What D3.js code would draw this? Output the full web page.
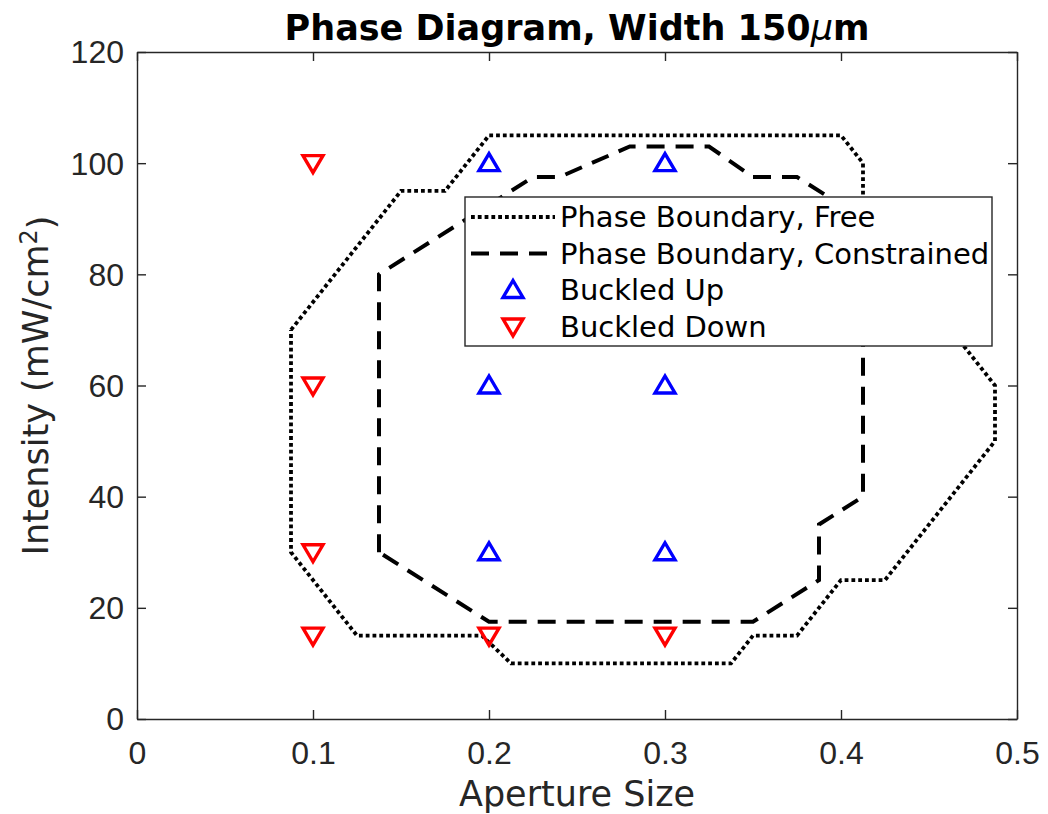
<!DOCTYPE html>
<html>
<head>
  <meta charset="UTF-8" />
  <title>Phase Diagram</title>
  <style>
    body { margin: 0; background: #fff; }
    svg { font-family: "DejaVu Sans", sans-serif; }
  </style>
  <script src="https://d3js.org/d3.v7.min.js"></script>
</head>
<body>
  <div id="chart"></div>
  <script>
    // boundary polygons: [aperture, intensity]
    const freeBoundary = [
      [0.0875, 70], [0.15, 95], [0.175, 95], [0.2, 105], [0.4, 105], [0.4125, 100],
      [0.4125, 90], [0.4875, 60], [0.4875, 50], [0.425, 25], [0.4, 25], [0.375, 15],
      [0.35, 15], [0.3375, 10], [0.2125, 10], [0.196, 15], [0.125, 15], [0.0875, 30], [0.0875, 70]
    ];
    const constrainedBoundary = [
      [0.1375, 30], [0.1375, 80], [0.225, 97.5], [0.24, 97.5], [0.28, 103], [0.325, 103],
      [0.35, 97.5], [0.375, 97.5], [0.4125, 90], [0.4125, 40], [0.3875, 35], [0.3875, 25],
      [0.35, 17.5], [0.2, 17.5], [0.1375, 30]
    ];
    const buckledUp = [[0.2, 100], [0.3, 100], [0.2, 60], [0.3, 60], [0.2, 30], [0.3, 30]];
    const buckledDown = [[0.1, 100], [0.1, 60], [0.1, 30], [0.1, 15], [0.2, 15], [0.3, 15]];
    const xTicks = [0, 0.1, 0.2, 0.3, 0.4, 0.5];
    const yTicks = [0, 20, 40, 60, 80, 100, 120];
    const legendLabels = ["Phase Boundary, Free", "Phase Boundary, Constrained", "Buckled Up", "Buckled Down"];

    let margin = { top: 52, right: 31, bottom: 95, left: 137 },
      width = 1048 - margin.left - margin.right,
      height = 814 - margin.top - margin.bottom;

    const axisColor = "#262626";

    let svg = d3.select("#chart")
      .append("svg")
      .attr("width", 1048)
      .attr("height", 814);

    let g = svg.append("g")
      .attr("transform", "translate(" + margin.left + "," + margin.top + ")");

    let xScale = d3.scaleLinear().domain([0, 0.5]).range([0, width]);
    let yScale = d3.scaleLinear().domain([0, 120]).range([height, 0]);

    /* axes, ticks pointing inward on all four sides */
    let xAxis = g.append("g")
      .attr("transform", "translate(0," + height + ")")
      .call(d3.axisBottom(xScale).tickValues(xTicks).tickSizeInner(-9).tickSizeOuter(0)
        .tickFormat(d => d === 0 ? "0" : d3.format(".1f")(d)));
    let xTop = g.append("g")
      .call(d3.axisTop(xScale).tickValues(xTicks).tickSizeInner(-9).tickSizeOuter(0).tickFormat(""));
    let yAxis = g.append("g")
      .call(d3.axisLeft(yScale).tickValues(yTicks).tickSizeInner(-9).tickSizeOuter(0).tickPadding(13));
    let yRight = g.append("g")
      .attr("transform", "translate(" + width + ",0)")
      .call(d3.axisRight(yScale).tickValues(yTicks).tickSizeInner(-9).tickSizeOuter(0).tickFormat(""));

    [xAxis, xTop, yAxis, yRight].forEach(a => {
      a.select(".domain").attr("stroke", axisColor).attr("stroke-width", 1.4);
      a.selectAll(".tick line").attr("stroke", axisColor).attr("stroke-width", 1.4);
      a.selectAll(".tick text").attr("fill", axisColor).style("font-size", "32px");
    });
    xAxis.selectAll(".tick text").attr("y", 45).attr("dy", 0);
    yAxis.selectAll(".tick text").attr("dy", "0.34em");

    /* boundaries */
    let line = d3.line().x(d => xScale(d[0])).y(d => yScale(d[1]));

    g.append("path")
      .datum(freeBoundary)
      .attr("d", line)
      .attr("fill", "none")
      .attr("stroke", "#000")
      .attr("stroke-width", 3.8)
      .attr("stroke-dasharray", "3.8,3");

    g.append("path")
      .datum(constrainedBoundary)
      .attr("d", line)
      .attr("fill", "none")
      .attr("stroke", "#000")
      .attr("stroke-width", 4)
      .attr("stroke-dasharray", "18,11");

    /* triangle markers */
    const triUp = "M0,-9.5L10,7.5L-10,7.5Z";
    const triDown = "M0,9.5L10,-7.5L-10,-7.5Z";

    g.selectAll("path.up")
      .data(buckledUp)
      .enter()
      .append("path")
      .attr("class", "up")
      .attr("d", triUp)
      .attr("transform", d => "translate(" + xScale(d[0]) + "," + yScale(d[1]) + ")")
      .attr("fill", "none")
      .attr("stroke", "#0000ff")
      .attr("stroke-width", 3.4);

    g.selectAll("path.down")
      .data(buckledDown)
      .enter()
      .append("path")
      .attr("class", "down")
      .attr("d", triDown)
      .attr("transform", d => "translate(" + xScale(d[0]) + "," + yScale(d[1]) + ")")
      .attr("fill", "none")
      .attr("stroke", "#ff0000")
      .attr("stroke-width", 3.4);

    /* legend */
    let legend = svg.append("g").attr("transform", "translate(465,197)");
    legend.append("rect")
      .attr("width", 527)
      .attr("height", 149)
      .attr("fill", "#fff")
      .attr("stroke", axisColor)
      .attr("stroke-width", 1.4);

    let rowY = i => 20 + i * 36.5;
    legend.append("line")
      .attr("x1", 6).attr("x2", 90).attr("y1", rowY(0)).attr("y2", rowY(0))
      .attr("stroke", "#000").attr("stroke-width", 3.8).attr("stroke-dasharray", "3.8,3");
    legend.append("line")
      .attr("x1", 6).attr("x2", 90).attr("y1", rowY(1)).attr("y2", rowY(1))
      .attr("stroke", "#000").attr("stroke-width", 4).attr("stroke-dasharray", "18,11");
    legend.append("path")
      .attr("d", triUp)
      .attr("transform", "translate(48," + rowY(2) + ")")
      .attr("fill", "none").attr("stroke", "#0000ff").attr("stroke-width", 3.4);
    legend.append("path")
      .attr("d", triDown)
      .attr("transform", "translate(48," + rowY(3) + ")")
      .attr("fill", "none").attr("stroke", "#ff0000").attr("stroke-width", 3.4);

    legend.selectAll("text")
      .data(legendLabels)
      .enter()
      .append("text")
      .attr("x", 95)
      .attr("y", (d, i) => rowY(i))
      .attr("dy", "0.36em")
      .style("font-size", "29px")
      .attr("fill", "#000")
      .text(d => d);

    /* title and axis labels */
    let title = svg.append("text")
      .attr("x", margin.left + width / 2)
      .attr("y", 40)
      .attr("text-anchor", "middle")
      .style("font-size", "35px")
      .style("font-weight", "bold")
      .attr("fill", "#000");
    title.append("tspan").text("Phase Diagram, Width 150");
    title.append("tspan").style("font-style", "italic").style("font-weight", "normal").text("\u03bc");
    title.append("tspan").text("m");

    svg.append("text")
      .attr("x", margin.left + width / 2)
      .attr("y", 806)
      .attr("text-anchor", "middle")
      .style("font-size", "35px")
      .attr("fill", axisColor)
      .text("Aperture Size");

    let ylab = svg.append("text")
      .attr("transform", "translate(48," + (margin.top + height / 2) + ") rotate(-90)")
      .attr("text-anchor", "middle")
      .style("font-size", "35px")
      .attr("fill", axisColor);
    ylab.append("tspan").text("Intensity (mW/cm");
    ylab.append("tspan").attr("dy", "-0.45em").style("font-size", "24px").text("2");
    ylab.append("tspan").attr("dy", "0.45em").text(")");
  </script>
</body>
</html>
